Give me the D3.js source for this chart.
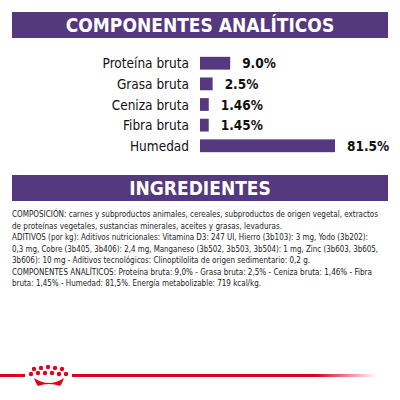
<!DOCTYPE html>
<html><head><meta charset="utf-8">
<script src="https://cdn.jsdelivr.net/npm/d3@7"></script>
<style>body{margin:0;background:#fff}</style>
</head><body>
<svg id="c" width="400" height="400"></svg>
<script>
const nutrients = ["Proteína bruta", "Grasa bruta", "Ceniza bruta", "Fibra bruta", "Humedad"];
const values = [9.0, 2.5, 1.46, 1.45, 81.5];
const labels = ["9.0%", "2.5%", "1.46%", "1.45%", "81.5%"];
const textLines = [
  "COMPOSICIÓN: carnes y subproductos animales, cereales, subproductos de origen vegetal, extractos",
  "de proteínas vegetales, sustancias minerales, aceites y grasas, levaduras.",
  "ADITIVOS (por kg): Aditivos nutricionales: Vitamina D3: 247 UI, Hierro (3b103): 3 mg, Yodo (3b202):",
  "0,3 mg, Cobre (3b405, 3b406): 2,4 mg, Manganeso (3b502, 3b503, 3b504): 1 mg, Zinc (3b603, 3b605,",
  "3b606): 10 mg - Aditivos tecnológicos: Clinoptilolita de origen sedimentario: 0,2 g.",
  "COMPONENTES ANALÍTICOS: Proteína bruta: 9,0% - Grasa bruta: 2,5% - Ceniza bruta: 1,46% - Fibra",
  "bruta: 1,45% - Humedad: 81,5%. Energía metabolizable: 719 kcal/kg."
];
const lineWidths = [366, 270, 356, 366, 298, 360, 249];

const purple = "#54397e";
const svg = d3.select("#c");
const font = "'Liberation Sans Narrow','DejaVu Sans Condensed',sans-serif";

function header(y, text) {
  svg.append("rect").attr("x", 12).attr("y", y).attr("width", 376).attr("height", 26).attr("fill", purple);
  svg.append("text").attr("x", 200).attr("y", y + 20).attr("text-anchor", "middle")
    .attr("font-family", "'DejaVu Sans Condensed',sans-serif").attr("font-weight", "bold")
    .attr("font-size", 19).attr("fill", "#fff").text(text);
}
header(12, "COMPONENTES ANALÍTICOS");
header(175, "INGREDIENTES");

const x = d3.scalePow().exponent(0.68).domain([0, 81.5]).range([0, 135]);
const y = d3.scaleBand().domain(nutrients).range([49, 160]).padding(0.38);

const g = svg.append("g");
g.selectAll("rect.bar").data(nutrients).join("rect")
  .attr("x", 200).attr("y", d => y(d)).attr("height", y.bandwidth())
  .attr("width", (d, i) => Math.max(4, x(values[i]))).attr("fill", purple);
g.selectAll("text.name").data(nutrients).join("text")
  .attr("x", 189).attr("y", d => y(d) + y.bandwidth() / 2 + 5).attr("text-anchor", "end")
  .attr("font-family", "'DejaVu Sans Condensed',sans-serif").attr("font-size", 13.5).attr("fill", "#111")
  .text(d => d);
g.selectAll("text.val").data(nutrients).join("text")
  .attr("x", (d, i) => 200 + Math.max(4, x(values[i])) + 12)
  .attr("y", d => y(d) + y.bandwidth() / 2 + 5)
  .attr("font-family", "'DejaVu Sans Condensed',sans-serif").attr("font-weight", "bold")
  .attr("font-size", 13.5).attr("fill", "#111").text((d, i) => labels[i]);

svg.selectAll("text.body").data(textLines).join("text")
  .attr("x", 12).attr("y", (d, i) => 217 + i * 11.5)
  .attr("font-family", font).attr("font-size", 9.2).attr("fill", "#222")
  .attr("textLength", (d, i) => lineWidths[i]).attr("lengthAdjust", "spacingAndGlyphs")
  .text(d => d);

// bottom red line with crown dots
const grad = svg.append("defs").append("linearGradient").attr("id", "rg");
grad.append("stop").attr("offset", "0.8").attr("stop-color", "#e2001a");
grad.append("stop").attr("offset", "1").attr("stop-color", "#e2001a").attr("stop-opacity", 0);
svg.append("rect").attr("x", 0).attr("y", 374).attr("width", 25).attr("height", 3).attr("fill", "#e2001a");
svg.append("rect").attr("x", 72).attr("y", 374).attr("width", 305).attr("height", 3).attr("fill", "url(#rg)");
const dots = [[35,369],[42,368],[49,367],[56,368],[63,369],[32,374],[39,373],[46,373],[53,373],[60,374],[67,374]];
svg.selectAll("circle.d").data(dots).join("circle")
  .attr("cx", d => d[0] - 1).attr("cy", d => d[1]).attr("r", 2.2).attr("fill", "#e2001a");
svg.append("path").attr("d", "M34,378 Q49,388 64,378 Q62,384 60,386 Q49,382 38,386 Q36,384 34,378Z").attr("fill", "#e2001a");
</script>
</body></html>
